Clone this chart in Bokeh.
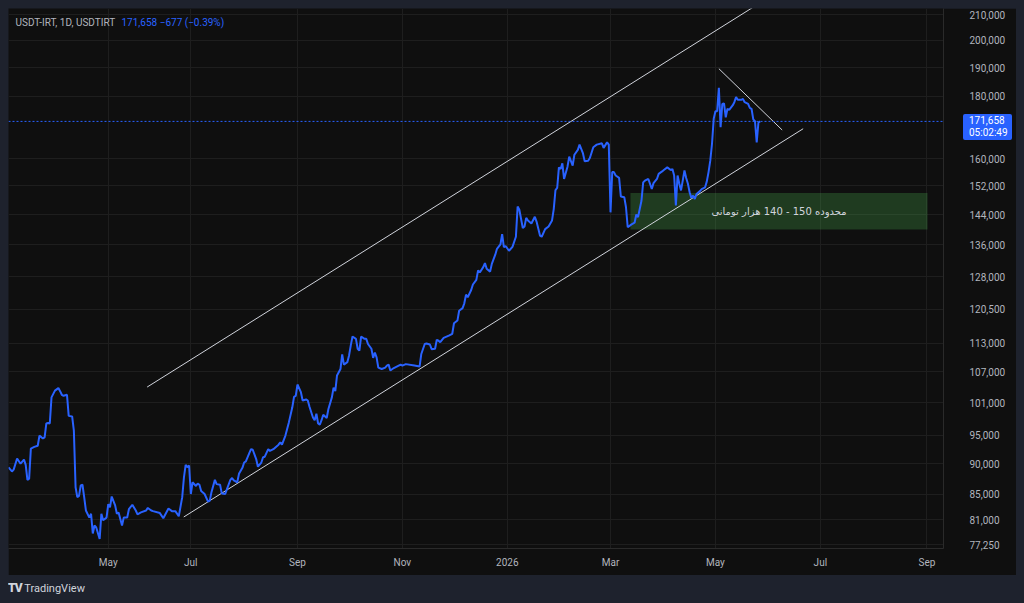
import math
from bokeh.plotting import figure
from bokeh.models import Range1d, FixedTicker, NumeralTickFormatter, Span, Label, Div
from bokeh.layouts import column
from bokeh.embed import file_html
from bokeh.resources import INLINE

# ---------------- data ----------------
symbol_text = "USDT-IRT, 1D, USDTIRT"
quote_text = "171,658  \u2212677 (\u22120.39%)"
last_price = 171658
last_price_text = "171,658"
countdown_text = "05:02:49"

# bar index (daily bars, June 2025 partly missing) and close price
day = [0, 2, 3, 5, 7, 9, 10, 11, 12, 13, 15, 17, 18, 20, 21, 22, 23, 24, 25, 27,
       29, 30, 31, 32, 34, 35, 37, 38, 39, 40, 41, 42, 43, 44, 45, 47, 48, 49, 50, 51,
       53, 54, 55, 57, 58, 59, 60, 62, 63, 64, 66, 67, 69, 70, 72, 74, 75, 77, 80, 81,
       83, 84, 88, 90, 93, 95, 97, 99, 101, 102, 103, 104, 105, 106, 107, 109, 110, 111, 112, 114,
       116, 117, 118, 120, 121, 123, 124, 126, 127, 129, 130, 131, 133, 134, 136, 137, 138, 140, 141, 142,
       144, 145, 147, 148, 149, 151, 152, 154, 157, 158, 159, 161, 163, 165, 166, 167, 168, 170, 171, 173,
       174, 175, 177, 178, 179, 180, 181, 182, 183, 185, 186, 188, 189, 190, 191, 193, 194, 195, 197, 198,
       199, 200, 202, 203, 204, 205, 207, 208, 209, 211, 212, 213, 214, 215, 217, 219, 220, 221, 222, 224,
       228, 229, 231, 236, 239, 240, 242, 243, 245, 246, 248, 249, 250, 251, 253, 256, 258, 259, 261, 262,
       264, 265, 266, 267, 269, 270, 272, 273, 274, 276, 277, 278, 280, 281, 283, 284, 286, 287, 288, 289,
       291, 293, 295, 296, 297, 299, 300, 301, 302, 304, 306, 307, 309, 310, 312, 314, 316, 317, 318, 319,
       320, 321, 322, 323, 325, 326, 328, 329, 331, 332, 334, 335, 337, 338, 340, 342, 345, 346, 348, 349,
       350, 351, 352, 353, 355, 356, 358, 359, 360, 362, 364, 365, 366, 368, 369, 370, 372, 374, 375, 377,
       378, 380, 381, 383, 385, 386, 387, 388, 389, 390, 391, 392, 393, 394, 395, 396, 397, 398, 399, 400,
       402, 403, 405, 406, 407, 408, 409, 410, 411, 412, 413, 414, 415, 416, 417, 418, 419, 421, 422, 423,
       424, 426, 427, 428, 430, 431, 432, 433, 434, 435, 436, 437]
price = [89400, 88700, 89000, 90900, 90000, 90700, 89800, 87300, 87500, 92600, 92900, 93100, 94900, 94400, 94600, 97100, 97200, 97100, 102000, 103300,
         103800, 103200, 102500, 102300, 102500, 98500, 98400, 95800, 86100, 84500, 84700, 86400, 86500, 84500, 82400, 81300, 81900, 78900, 80100, 79800,
         78100, 81900, 80900, 81300, 83400, 82900, 84600, 83200, 81900, 82100, 80100, 81300, 81300, 82600, 83300, 82400, 81800, 82100, 82400, 82800,
         82400, 82300, 82000, 81200, 82700, 82300, 82300, 81500, 84500, 87700, 89800, 89400, 89700, 85000, 86900, 86300, 86700, 86500, 85500, 85000,
         83800, 83900, 85300, 87300, 86600, 86500, 85100, 85000, 85800, 87300, 87600, 87200, 86900, 88300, 89300, 90200, 90400, 91800, 92500, 92400,
         90800, 89500, 90200, 91100, 91200, 92500, 92200, 92500, 93300, 93700, 93300, 94900, 97300, 100100, 102100, 102300, 104500, 103000, 101400, 101600,
         101400, 100200, 98200, 97700, 98900, 97100, 96900, 97700, 98700, 98100, 99800, 102000, 103900, 103200, 106300, 107600, 110600, 108500, 109000, 110400,
         112500, 114400, 113900, 111800, 111400, 114400, 113900, 113900, 112800, 111800, 109900, 111000, 110000, 107900, 107600, 107900, 108300, 108500, 107300, 107800,
         108500, 108300, 108600, 108300, 108100, 110700, 112800, 112900, 112700, 111700, 111800, 113700, 113500, 113200, 114100, 114600, 115000, 117300, 117900, 120100,
         120700, 121800, 123800, 123200, 124900, 126200, 127300, 129600, 129100, 130400, 131400, 130000, 129300, 131200, 133500, 135000, 136100, 138800, 135400, 135700,
         134500, 135500, 138100, 146200, 145300, 140400, 140800, 143100, 142400, 141600, 143400, 142100, 138400, 138100, 140100, 140800, 142400, 145500, 150800, 151400,
         157400, 156900, 158600, 154000, 157600, 160600, 157900, 161200, 162700, 164300, 161600, 159200, 159400, 160200, 163500, 164300, 164700, 163300, 165000, 164300,
         144600, 156000, 156000, 155000, 154300, 149000, 148800, 146000, 140600, 141300, 141800, 144000, 143300, 147800, 153000, 153500, 154000, 151100, 152800, 154000,
         155500, 156200, 156600, 157400, 156600, 156900, 155000, 146500, 155000, 152600, 150700, 153500, 156500, 154300, 152600, 150200, 148600, 149200, 148300, 149700,
         150500, 151100, 151600, 153300, 156000, 159400, 164500, 172500, 175000, 175000, 182900, 169800, 177400, 177600, 173000, 175800, 175400, 176900, 178000, 179700,
         178800, 178800, 179100, 178000, 177400, 176100, 175800, 172300, 171700, 165000, 171300, 171658]

# x-axis month ticks (bar index) and labels
x_tick_days = [58, 106, 168, 229, 290, 350, 411, 472, 534]
x_tick_labels = ["May", "Jul", "Sep", "Nov", "2026", "Mar", "May", "Jul", "Sep"]

# y-axis (log) ticks
y_ticks = [77250, 81000, 85000, 90000, 95000, 101000, 107000, 113000, 120500,
           128000, 136000, 144000, 152000, 160000, 180000, 190000, 200000, 210000]

# drawings
upper_channel_day = [80.6, 440.0]
upper_channel_price = [104000, 216000]
lower_channel_day = [101.9, 462.0]
lower_channel_price = [81400, 169300]
resistance_day = [413.0, 449.8]
resistance_price = [189600, 168900]
zone_day = [361.6, 534.3]
zone_price = [140000, 150000]
zone_text = "محدوده 150 - 140 هزار تومانی"

X_START, X_END = 0, 543.6
Y_START, Y_END = 76700, 212400

# ---------------- styles ----------------
BG = "#0f0f0f"
PAGE = "#1e222d"
GRID = "#1e1e1e"
AXIS_TXT = "#b2b5be"
BLUE = "#2962ff"
DRAW = "#d1d4dc"
FONT = "Roboto"

p = figure(width=1008, height=567,
           x_range=Range1d(X_START, X_END), y_range=Range1d(Y_START, Y_END),
           y_axis_type="log", y_axis_location="right",
           output_backend="svg", toolbar_location=None,
           background_fill_color=BG, border_fill_color=BG,
           min_border_left=0, min_border_right=73, min_border_top=0, min_border_bottom=27)
p.outline_line_color = None

# axes
xt = FixedTicker(ticks=x_tick_days)
yt = FixedTicker(ticks=y_ticks)
p.xaxis.ticker = xt
p.xaxis.major_label_overrides = {d: l for d, l in zip(x_tick_days, x_tick_labels)}
p.yaxis.ticker = yt
p.yaxis.formatter = NumeralTickFormatter(format="0,0")
for ax in (p.xaxis, p.yaxis):
    ax.axis_line_color = "#2a2a2a"
    ax.major_tick_line_color = None
    ax.minor_tick_line_color = None
    ax.major_tick_out = 0
    ax.major_tick_in = 0
    ax.minor_tick_out = 0
    ax.major_label_text_color = AXIS_TXT
    ax.major_label_text_font = FONT
    ax.major_label_text_font_size = "10px"
p.xaxis.major_label_standoff = 8
p.yaxis.major_label_standoff = 26

p.xgrid.ticker = xt
p.ygrid.ticker = yt
p.xgrid.grid_line_color = GRID
p.ygrid.grid_line_color = GRID

# zone
p.quad(left=[zone_day[0]], right=[zone_day[1]], bottom=[zone_price[0]], top=[zone_price[1]],
       fill_color="#4caf50", fill_alpha=0.28, line_color=None)

# trend lines
p.line(upper_channel_day, upper_channel_price, line_color=DRAW, line_width=1)
p.line(lower_channel_day, lower_channel_price, line_color=DRAW, line_width=1)
p.line(resistance_day, resistance_price, line_color=DRAW, line_width=1)

# price line
p.add_layout(Span(location=last_price, dimension="width", line_color=BLUE,
                  line_width=1, line_dash="2 2"))
p.line(day, price, line_color=BLUE, line_width=2)

# zone text
p.add_layout(Label(x=(zone_day[0] + zone_day[1]) / 2, y=math.sqrt(zone_price[0] * zone_price[1]),
                   text=zone_text, text_align="center", text_baseline="middle",
                   text_font="DejaVu Sans", text_font_size="10px", text_color=DRAW))

# legend texts
legend_y = 207050
p.add_layout(Label(x=X_START, y=legend_y, x_offset=7, text=symbol_text,
                   text_baseline="middle", text_font=FONT, text_font_size="10px",
                   text_color=AXIS_TXT))
p.add_layout(Label(x=X_START, y=legend_y, x_offset=113, text=quote_text,
                   text_baseline="middle", text_font=FONT, text_font_size="10px",
                   text_color=BLUE))

# last price badge on the price scale (outside the frame, so an HTML element)
badge = Div(text=last_price_text + "<br>" + countdown_text,
            width=49, height=26, margin=(0, 0, 0, 0),
            styles={"position": "fixed", "left": "963px", "top": "114px",
                    "background-color": BLUE, "color": "#ffffff",
                    "font-family": FONT, "font-size": "10px", "line-height": "12px",
                    "box-sizing": "border-box", "padding": "1px 0 0 6px",
                    "border-radius": "2px"})

footer = Div(text='<span style="font-weight:900;font-size:12px;letter-spacing:-1px;">TV</span>&nbsp;TradingView',
             width=200, height=26, margin=(0, 0, 0, 0),
             styles={"color": "#d1d4dc", "font-family": FONT, "font-size": "11px",
                     "line-height": "26px"})

layout = column(p, footer, badge, spacing=0)
html = file_html(layout, INLINE)
html = html.replace("</head>",
                    "<style>html{overflow:hidden;background:%s;} html,body{height:auto !important;} "
                    "body{margin:8px !important;background:%s;}</style></head>" % (PAGE, PAGE), 1)
open("out.html", "w").write(html)
